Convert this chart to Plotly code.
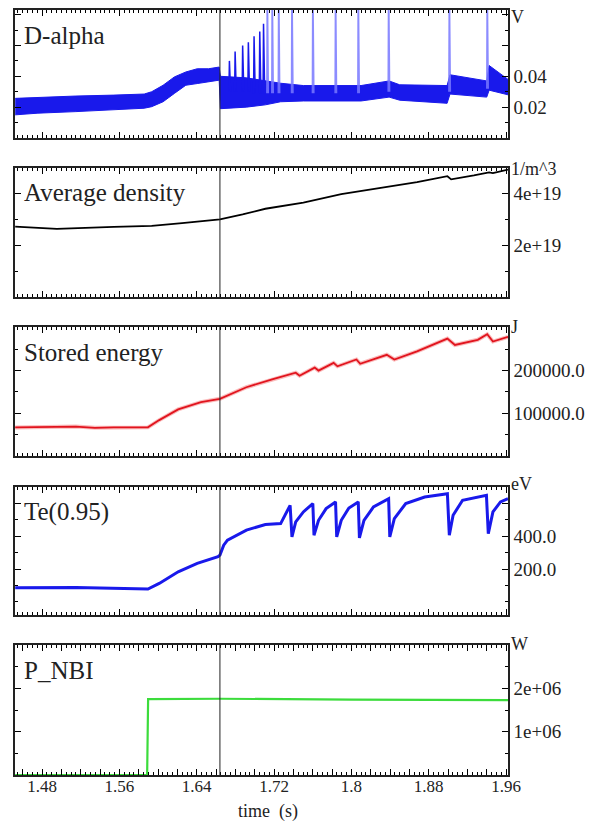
import plotly.graph_objects as go

# ---------------- data ----------------
time_range = [1.452, 1.962]
lh_time = 1.664

# D-alpha noisy band: lower / upper envelope (V)
dalpha_t = [1.4522, 1.4757, 1.5150, 1.5542, 1.5857, 1.5934, 1.6052, 1.6169, 1.6287, 1.6405,
            1.6522, 1.6632, 1.6645, 1.6914, 1.7110, 1.7268, 1.7503, 1.7700, 1.8100, 1.8390,
            1.8500, 1.8990, 1.9020, 1.9400, 1.9425, 1.9620]
dalpha_lo = [0.0150, 0.0161, 0.0171, 0.0182, 0.0193, 0.0203, 0.0235, 0.0289, 0.0342, 0.0353,
             0.0364, 0.0375, 0.0190, 0.0200, 0.0215, 0.0235, 0.0240, 0.0240, 0.0240, 0.0265,
             0.0245, 0.0225, 0.0285, 0.0265, 0.0310, 0.0280]
dalpha_hi = [0.0257, 0.0263, 0.0272, 0.0278, 0.0285, 0.0300, 0.0342, 0.0396, 0.0428, 0.0449,
             0.0449, 0.0460, 0.0400, 0.0390, 0.0370, 0.0355, 0.0340, 0.0340, 0.0340, 0.0370,
             0.0345, 0.0340, 0.0410, 0.0370, 0.0470, 0.0380]

# dithering spikes after the L-H transition
dither_t = [1.6738, 1.6797, 1.6875, 1.6934, 1.6993, 1.7052, 1.7091]
dither_peak = [0.050, 0.056, 0.060, 0.062, 0.066, 0.069, 0.074]
dither_base = [0.030, 0.030, 0.030, 0.030, 0.029, 0.029, 0.029]

# ELM spikes (go off scale)
elm_t = [1.7130, 1.7181, 1.7248, 1.7385, 1.7601, 1.7836, 1.8071, 1.8385, 1.9013, 1.9405]
elm_peak = [0.10, 0.10, 0.10, 0.10, 0.10, 0.10, 0.10, 0.10, 0.10, 0.10]
elm_base = [0.029, 0.029, 0.029, 0.029, 0.029, 0.029, 0.029, 0.030, 0.030, 0.032]

# Average density (1/m^3)
dens_t = [1.4522, 1.4953, 1.5542, 1.5934, 1.6248, 1.6483, 1.6640, 1.6875, 1.7110, 1.7503,
          1.7895, 1.8287, 1.8679, 1.8993, 1.9032, 1.9267, 1.9424, 1.9464, 1.9620]
dens_v = [2.73e19, 2.64e19, 2.72e19, 2.76e19, 2.86e19, 2.95e19, 3.01e19, 3.20e19, 3.42e19, 3.66e19,
          3.99e19, 4.22e19, 4.45e19, 4.68e19, 4.56e19, 4.71e19, 4.83e19, 4.80e19, 4.94e19]

# Stored energy (J)
wst_t = [1.4522, 1.4757, 1.5150, 1.5346, 1.5542, 1.5895, 1.6012, 1.6208, 1.6444, 1.6640,
         1.6914, 1.7189, 1.7424, 1.7464, 1.7620, 1.7660, 1.7816, 1.7856, 1.8052, 1.8091,
         1.8366, 1.8444, 1.8679, 1.8993, 1.9071, 1.9307, 1.9405, 1.9464, 1.9620]
wst_v = [67000, 68000, 69000, 66000, 67000, 67000, 84000, 109000, 126000, 134000,
         161000, 180000, 195000, 188000, 207000, 200000, 218000, 210000, 226000, 216000,
         237000, 226000, 245000, 275000, 260000, 272000, 285000, 268000, 279000]

# Te(0.95) (eV)
te_t = [1.4522, 1.5150, 1.5895, 1.6012, 1.6208, 1.6405, 1.6620, 1.6640, 1.6679, 1.6718,
        1.6914, 1.7110, 1.7268, 1.7366, 1.7385, 1.7424, 1.7503, 1.7601, 1.7613, 1.7660,
        1.7738, 1.7836, 1.7848, 1.7895, 1.7974, 1.8071, 1.8083, 1.8130, 1.8228, 1.8385,
        1.8397, 1.8444, 1.8562, 1.8758, 1.8993, 1.9013, 1.9052, 1.9150, 1.9397, 1.9416,
        1.9464, 1.9542, 1.9620]
te_v = [86, 88, 78, 112, 183, 234, 275, 285, 345, 376,
        437, 471, 477, 588, 396, 487, 548, 599, 406, 497,
        568, 609, 396, 497, 572, 609, 390, 497, 578, 629,
        396, 507, 599, 639, 659, 406, 528, 619, 649, 416,
        548, 609, 629]

# NBI power (W)
nbi_t = [1.4522, 1.5887, 1.5897, 1.6640, 1.8000, 1.9620]
nbi_v = [0, 0, 1.75e6, 1.76e6, 1.74e6, 1.73e6]

# axes / labels
panel_titles = ["D-alpha", "Average density", "Stored energy", "Te(0.95)", "P_NBI"]
panel_units = ["V", "1/m^3", "J", "eV", "W"]
y_ranges = [[0, 0.083], [0, 5e19], [0, 3.02e5], [-80, 700], [0, 3e6]]
y_tickvals = [[0.02, 0.04, 0.06, 0.08], [2e19, 4e19], [1e5, 2e5], [200, 400, 600], [1e6, 2e6]]
y_ticktext = [["0.02", "0.04", "", ""], ["2e+19", "4e+19"], ["100000.0", "200000.0"],
              ["200.0", "400.0", ""], ["1e+06", "2e+06"]]
y_minor = [0.01, 1e19, 5e4, 100, 5e5]
x_tickvals = [1.46, 1.48, 1.50, 1.52, 1.54, 1.56, 1.58, 1.60, 1.62, 1.64, 1.66, 1.68, 1.70,
              1.72, 1.74, 1.76, 1.78, 1.80, 1.82, 1.84, 1.86, 1.88, 1.90, 1.92, 1.94, 1.96]
x_ticktext = ["", "1.48", "", "", "", "1.56", "", "", "", "1.64", "", "", "",
              "1.72", "", "", "", "1.8", "", "", "", "1.88", "", "", "", "1.96"]
x_title = "time  (s)"

# ---------------- figure ----------------
FONT = "Liberation Serif"
BLUE = "rgb(25,25,235)"
domains = [(0.8327, 1.0), (0.6248, 0.7935), (0.4170, 0.5856), (0.2092, 0.3765), (0.0, 0.1699)]
unit_yshift = [-7, -1, 0, 3, 1]

fig = go.Figure()


def ax(i):
    return ("x" if i == 0 else "x%d" % (i + 1)), ("y" if i == 0 else "y%d" % (i + 1))


# panel 1 : D-alpha
xa, ya = ax(0)
fig.add_trace(go.Scatter(x=dalpha_t, y=dalpha_lo, mode="lines", line=dict(color=BLUE, width=1),
                         xaxis=xa, yaxis=ya, hoverinfo="skip"))
fig.add_trace(go.Scatter(x=dalpha_t, y=dalpha_hi, mode="lines", line=dict(color=BLUE, width=1),
                         fill="tonexty", fillcolor=BLUE, xaxis=xa, yaxis=ya))
sx, sy = [], []
for t, b, p in zip(dither_t, dither_base, dither_peak):
    sx += [t - 0.0005, t, t + 0.0012, None]
    sy += [b, p, b, None]
fig.add_trace(go.Scatter(x=sx, y=sy, mode="lines", line=dict(color=BLUE, width=1.5),
                         xaxis=xa, yaxis=ya))
ex, ey = [], []
for t, b, p in zip(elm_t, elm_base, elm_peak):
    ex += [t - 0.0004, t, t + 0.0010, None]
    ey += [b, p, b, None]
fig.add_trace(go.Scatter(x=ex, y=ey, mode="lines", line=dict(color="rgba(120,120,255,0.85)", width=1.6),
                         xaxis=xa, yaxis=ya))

# panel 2 : density
xa, ya = ax(1)
fig.add_trace(go.Scatter(x=dens_t, y=dens_v, mode="lines", line=dict(color="black", width=1.8),
                         xaxis=xa, yaxis=ya))

# panel 3 : stored energy
xa, ya = ax(2)
fig.add_trace(go.Scatter(x=wst_t, y=wst_v, mode="lines", line=dict(color="rgba(240,60,60,0.35)", width=4),
                         xaxis=xa, yaxis=ya))
fig.add_trace(go.Scatter(x=wst_t, y=wst_v, mode="lines", line=dict(color="rgb(225,20,30)", width=1.8),
                         xaxis=xa, yaxis=ya))

# panel 4 : Te
xa, ya = ax(3)
fig.add_trace(go.Scatter(x=te_t, y=te_v, mode="lines", line=dict(color=BLUE, width=3),
                         xaxis=xa, yaxis=ya))

# panel 5 : NBI
xa, ya = ax(4)
fig.add_trace(go.Scatter(x=nbi_t, y=nbi_v, mode="lines", line=dict(color="rgb(60,220,60)", width=2.2),
                         xaxis=xa, yaxis=ya))

# the page body has an 8px default margin, so the figure is sized to fit the 595x822 window
layout = dict(
    width=587, height=814,
    margin=dict(l=7, r=87, t=2, b=47),
    paper_bgcolor="white", plot_bgcolor="white",
    showlegend=False,
    font=dict(family=FONT, color="#222", size=18),
)

shapes, annotations = [], []
for i in range(5):
    xa, ya = ax(i)
    xkey = "xaxis" if i == 0 else "xaxis%d" % (i + 1)
    ykey = "yaxis" if i == 0 else "yaxis%d" % (i + 1)
    layout[xkey] = dict(
        domain=[0, 1], anchor=ya, range=time_range, automargin=False,
        tickmode="array", tickvals=x_tickvals, ticktext=x_ticktext,
        showticklabels=(i == 4), ticks="inside", ticklen=6, tickwidth=1, tickcolor="black",
        ticklabelstandoff=-5,
        showline=True, linecolor="#222", linewidth=1.5, mirror="ticks",
        showgrid=False, zeroline=False,
        minor=dict(tickmode="linear", tick0=1.46, dtick=0.005, ticks="inside", ticklen=3,
                   tickwidth=1, tickcolor="black", showgrid=False),
        tickfont=dict(family=FONT, size=17, color="#222"),
    )
    layout[ykey] = dict(
        domain=list(domains[i]), anchor=xa, range=y_ranges[i], side="right", automargin=False,
        tickmode="array", tickvals=y_tickvals[i], ticktext=y_ticktext[i],
        ticks="inside", ticklen=6, tickwidth=1, tickcolor="black",
        showline=True, linecolor="#222", linewidth=1.5, mirror="ticks",
        showgrid=False, zeroline=False,
        minor=dict(tickmode="linear", tick0=0, dtick=y_minor[i], ticks="inside", ticklen=3,
                   tickwidth=1, tickcolor="black", showgrid=False),
        tickfont=dict(family=FONT, size=19, color="#222"),
    )
    shapes.append(dict(type="line", xref=xa, yref=ya + " domain", x0=lh_time, x1=lh_time,
                       y0=0, y1=1, line=dict(color="#222", width=1)))
    annotations.append(dict(text=panel_titles[i], xref=xa + " domain", yref=ya + " domain",
                            x=0, y=1, xshift=7, yshift=-25, xanchor="left", yanchor="middle",
                            showarrow=False, font=dict(family=FONT, size=25, color="#222")))
    annotations.append(dict(text=panel_units[i], xref=xa + " domain", yref=ya + " domain",
                            x=1, y=1, xshift=1, yshift=unit_yshift[i], xanchor="left", yanchor="middle",
                            showarrow=False, font=dict(family=FONT, size=18, color="#222")))

# x-axis title below the bottom panel
annotations.append(dict(text=x_title, xref="x5 domain", yref="y5 domain", x=0.5, y=0,
                        xshift=6, yshift=-36, xanchor="center", yanchor="middle",
                        showarrow=False, font=dict(family=FONT, size=18, color="#222")))

layout["shapes"] = shapes
layout["annotations"] = annotations
fig.update_layout(**layout)

fig.write_html("out.html")
